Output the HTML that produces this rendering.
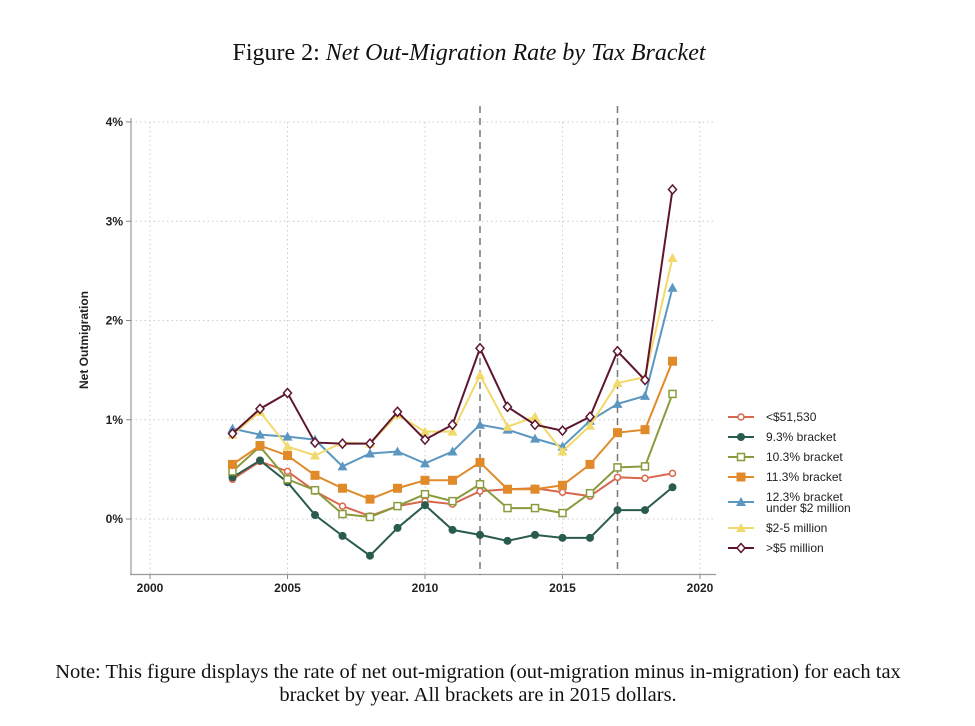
<!DOCTYPE html>
<html><head><meta charset="utf-8"><style>
body{margin:0;background:#fff;width:975px;height:726px;overflow:hidden}
svg{display:block}
.t{font-family:"Liberation Sans",sans-serif;font-size:12px;fill:#222}
.s{font-family:"Liberation Serif",serif;fill:#111}
</style></head><body>
<svg id="c" width="975" height="726">
<text class="s" x="469" y="60" text-anchor="middle" font-size="24">Figure 2: <tspan font-style="italic">Net Out-Migration Rate by Tax Bracket</tspan></text>
<text class="s" x="478" y="678" text-anchor="middle" font-size="20.5">Note: This figure displays the rate of net out-migration (out-migration minus in-migration) for each tax</text>
<text class="s" x="478" y="701" text-anchor="middle" font-size="20.5">bracket by year. All brackets are in 2015 dollars.</text>
<text class="t" transform="translate(88,340) rotate(-90)" text-anchor="middle" font-size="13" font-weight="bold">Net Outmigration</text>
<g id="g"></g>
</svg>
<script>
const years=[2003,2004,2005,2006,2007,2008,2009,2010,2011,2012,2013,2014,2015,2016,2017,2018,2019];
const seriesNames=["<$51,530","9.3% bracket","10.3% bracket","11.3% bracket","12.3% bracket|under $2 million","$2-5 million",">$5 million"];
const sLow=[0.40,0.58,0.48,0.28,0.13,0.03,0.13,0.18,0.15,0.28,0.30,0.31,0.27,0.23,0.42,0.41,0.46];
const s93=[0.42,0.59,0.37,0.04,-0.17,-0.37,-0.09,0.14,-0.11,-0.16,-0.22,-0.16,-0.19,-0.19,0.09,0.09,0.32];
const s103=[0.48,0.73,0.40,0.29,0.05,0.02,0.13,0.25,0.18,0.35,0.11,0.11,0.06,0.26,0.52,0.53,1.26];
const s113=[0.55,0.74,0.64,0.44,0.31,0.20,0.31,0.39,0.39,0.57,0.30,0.30,0.34,0.55,0.87,0.90,1.59];
const s123=[0.91,0.85,0.83,0.80,0.53,0.66,0.68,0.56,0.68,0.95,0.90,0.81,0.73,0.99,1.16,1.24,2.33];
const s25=[0.85,1.08,0.73,0.64,0.77,0.76,1.05,0.88,0.88,1.45,0.93,1.03,0.68,0.94,1.37,1.43,2.63];
const s5=[0.86,1.11,1.27,0.77,0.76,0.76,1.08,0.80,0.95,1.72,1.13,0.95,0.89,1.03,1.69,1.40,3.32];
const xTicks=[2000,2005,2010,2015,2020];
const yTicks=[0,1,2,3,4];
const vLines=[2012,2017];
const colors=["#d9674e","#2a5b4f","#8a9b3e","#e08a2a","#5b97c0","#f2d96b","#5e1630"];
const markers=["ocircle","circle","osquare","square","triangle","triangle","diamond"];
const data=[sLow,s93,s103,s113,s123,s25,s5];
const X=v=>150+27.5*(v-2000), Y=v=>519-99.25*v;
const NS="http://www.w3.org/2000/svg", g=document.getElementById('g');
function mk(t,a,p){const e=document.createElementNS(NS,t);for(const k in a)e.setAttribute(k,a[k]);(p||g).appendChild(e);return e;}
yTicks.forEach(v=>{const l=mk('line',{x1:131,x2:715,y1:Y(v),y2:Y(v),stroke:'#ccc','stroke-dasharray':'1.5,3'});


mk('line',{x1:126,x2:131,y1:Y(v),y2:Y(v),stroke:'#888'});
const tx=mk('text',{x:123,y:Y(v)+4,'text-anchor':'end',class:'t','font-weight':'bold'});tx.textContent=v+'%';

});
xTicks.forEach(v=>{const l=mk('line',{x1:X(v),x2:X(v),y1:122,y2:574,stroke:'#ccc','stroke-dasharray':'1.5,3'});


mk('line',{x1:X(v),x2:X(v),y1:574,y2:579,stroke:'#888'});
const tx=mk('text',{x:X(v),y:592,'text-anchor':'middle',class:'t','font-weight':'bold'});tx.textContent=v;

});
const ya=mk('line',{x1:131,x2:131,y1:118,y2:575,stroke:'#999','stroke-width':1.2});


const xa=mk('line',{x1:130,x2:716,y1:574.5,y2:574.5,stroke:'#999','stroke-width':1.2});


vLines.forEach(v=>{const l=mk('line',{x1:X(v),x2:X(v),y1:106,y2:575,stroke:'#777','stroke-width':1.5,'stroke-dasharray':'7,5'});

});
function marker(type,x,y,c,p){let e;
 if(type=='ocircle')e=mk('circle',{cx:x,cy:y,r:3,fill:'#fff',stroke:c,'stroke-width':1.5},p);
 else if(type=='circle')e=mk('circle',{cx:x,cy:y,r:4,fill:c},p);
 else if(type=='osquare'){e=mk('rect',{x:x-3.5,y:y-3.5,width:7,height:7,fill:'#fff',stroke:c,'stroke-width':1.5},p);}
 else if(type=='square')e=mk('rect',{x:x-4.5,y:y-4.5,width:9,height:9,fill:c},p);
 else if(type=='triangle')e=mk('polygon',{points:`${x},${y-5} ${x+5},${y+4} ${x-5},${y+4}`,fill:c},p);
 else e=mk('polygon',{points:`${x},${y-4.5} ${x+4},${y} ${x},${y+4.5} ${x-4},${y}`,fill:'#fff',stroke:c,'stroke-width':1.5},p);
 return e;}
data.forEach((d,i)=>{const grp=mk('g',{});
 
 
 const pl=mk('polyline',{points:d.map((v,j)=>X(years[j])+','+Y(v)).join(' '),fill:'none',stroke:colors[i],'stroke-width':2},grp);
 
 
 d.forEach((v,j)=>{const m=marker(markers[i],X(years[j]),Y(v),colors[i],grp);
 
 });});
let ly=417;
seriesNames.forEach((n,i)=>{const lg=mk('g',{});
 
 
 const parts=n.split('|');
 const cy=ly+(parts.length>1?5:0);
 mk('line',{x1:728,x2:754,y1:cy,y2:cy,stroke:colors[i],'stroke-width':2},lg);
 marker(markers[i],741,cy,colors[i],lg);
 parts.forEach((p,k)=>{const t=mk('text',{x:766,y:ly+4+k*11,class:'t','font-size':11},lg);t.textContent=p;});
 ly+=parts.length>1?31:20;});
</script>
</body></html>
